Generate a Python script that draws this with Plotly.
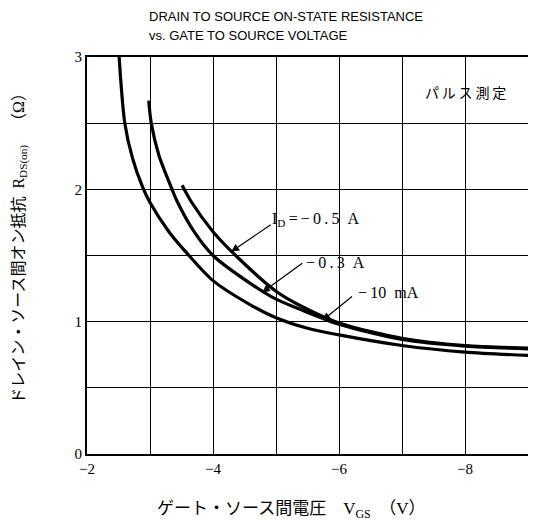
import plotly.graph_objects as go

# Data (V_GS in volts, R_DS(on) in ohms)
vgs_10mA = [-2.51, -2.6, -2.72, -2.88, -3.0, -3.3, -3.6, -4.0, -4.62, -5.0, -5.5, -6.0, -7.0, -8.0, -9.0]
r_10mA = [3.0, 2.5, 2.24, 2.02, 1.9, 1.68, 1.51, 1.31, 1.12, 1.03, 0.95, 0.90, 0.82, 0.77, 0.745]

vgs_03A = [-2.98, -3.02, -3.14, -3.35, -3.43, -3.7, -4.0, -4.62, -5.0, -5.35, -6.0, -7.0, -8.0, -9.0]
r_03A = [2.67, 2.5, 2.26, 2.0, 1.91, 1.68, 1.50, 1.28, 1.17, 1.10, 0.98, 0.865, 0.815, 0.795]

vgs_05A = [-3.51, -3.65, -4.0, -4.36, -5.0, -5.35, -6.0, -7.0, -8.0, -9.0]
r_05A = [2.03, 1.91, 1.68, 1.5, 1.23, 1.13, 0.99, 0.875, 0.82, 0.80]

x_ticks = [-2, -3, -4, -5, -6, -7, -8, -9]
x_ticktext = ["−2", "", "−4", "", "−6", "", "−8", ""]
y_ticks = [0, 0.5, 1, 1.5, 2, 2.5, 3]
y_ticktext = ["0", "", "1", "", "2", "", "3"]

SERIF = "Liberation Serif, Times New Roman, Noto Sans CJK JP, serif"
JP = "Liberation Serif, Noto Sans CJK JP, serif"
TS = "\u2009"  # thin space

fig = go.Figure()
for xs, ys in [(vgs_10mA, r_10mA), (vgs_03A, r_03A), (vgs_05A, r_05A)]:
    fig.add_trace(go.Scatter(x=xs, y=ys, mode="lines",
                             line=dict(color="black", width=3.2, shape="spline", smoothing=0.8),
                             showlegend=False, hoverinfo="skip"))

ann = []
# Title (two lines)
for txt, yy in [("DRAIN TO SOURCE ON-STATE RESISTANCE", 1.1008),
                ("vs. GATE TO SOURCE VOLTAGE", 1.0554)]:
    ann.append(dict(text=txt, xref="paper", yref="paper", x=0.135, y=yy,
                    xanchor="left", yanchor="middle", showarrow=False,
                    font=dict(family="Liberation Sans, Arial, sans-serif", size=13, color="black")))
# Pulse measurement note
ann.append(dict(text=TS.join("パルス測定"), xref="paper", yref="paper", x=0.763, y=0.907,
                xanchor="left", yanchor="middle", showarrow=False,
                font=dict(family=JP, size=14, color="black")))
# Axis titles
ann.append(dict(text="ドレイン・ソース間オン抵抗\u2002R<sub>DS(on)</sub>\u2003（Ω）",
                xref="paper", yref="paper", x=-0.151, y=0.528, textangle=-90,
                xanchor="center", yanchor="middle", showarrow=False,
                font=dict(family=JP, size=16, color="black")))
ann.append(dict(text="ゲート・ソース間電圧\u3000V<sub>GS</sub>\u2002（V）",
                xref="paper", yref="paper", x=0.463, y=-0.141,
                xanchor="center", yanchor="middle", showarrow=False,
                font=dict(family=JP, size=17, color="black")))
# Curve labels
labels = [("I<sub>D</sub>" + TS + "=" + TS + "−" + TS + "0" + TS + "." + TS + "5\u2002A", -4.91, 1.77),
          ("−" + TS + "0" + TS + "." + TS + "3\u2002A", -5.44, 1.45),
          ("−" + TS + "10\u2002mA", -6.27, 1.22)]
for t, lx, ly in labels:
    ann.append(dict(text=t, x=lx, y=ly, xref="x", yref="y", xanchor="left", yanchor="middle",
                    showarrow=False, font=dict(family=SERIF, size=16, color="black")))
arrows = [(-4.29, 1.53, -4.94, 1.74), (-4.78, 1.22, -5.44, 1.45), (-5.74, 1.01, -6.23, 1.20)]
for hx, hy, tx, ty in arrows:
    ann.append(dict(text="", x=hx, y=hy, ax=tx, ay=ty, xref="x", yref="y", axref="x", ayref="y",
                    showarrow=True, arrowhead=2, arrowsize=1.3, arrowwidth=1.2, arrowcolor="black"))

fig.update_layout(
    width=528, height=519,
    margin=dict(l=79, r=6, t=49, b=73),
    paper_bgcolor="white", plot_bgcolor="white",
    annotations=ann,
    xaxis=dict(range=[-2, -9], tickvals=x_ticks, ticktext=x_ticktext,
               showgrid=True, gridcolor="black", gridwidth=1,
               showline=True, linecolor="black", linewidth=2, mirror=True,
               ticks="", zeroline=False,
               tickfont=dict(family=SERIF, size=15, color="black")),
    yaxis=dict(range=[0, 3], tickvals=y_ticks, ticktext=y_ticktext,
               showgrid=True, gridcolor="black", gridwidth=1,
               showline=True, linecolor="black", linewidth=2, mirror=True,
               ticks="", zeroline=False,
               tickfont=dict(family=SERIF, size=15, color="black")),
)

fig.write_html("out.html")
